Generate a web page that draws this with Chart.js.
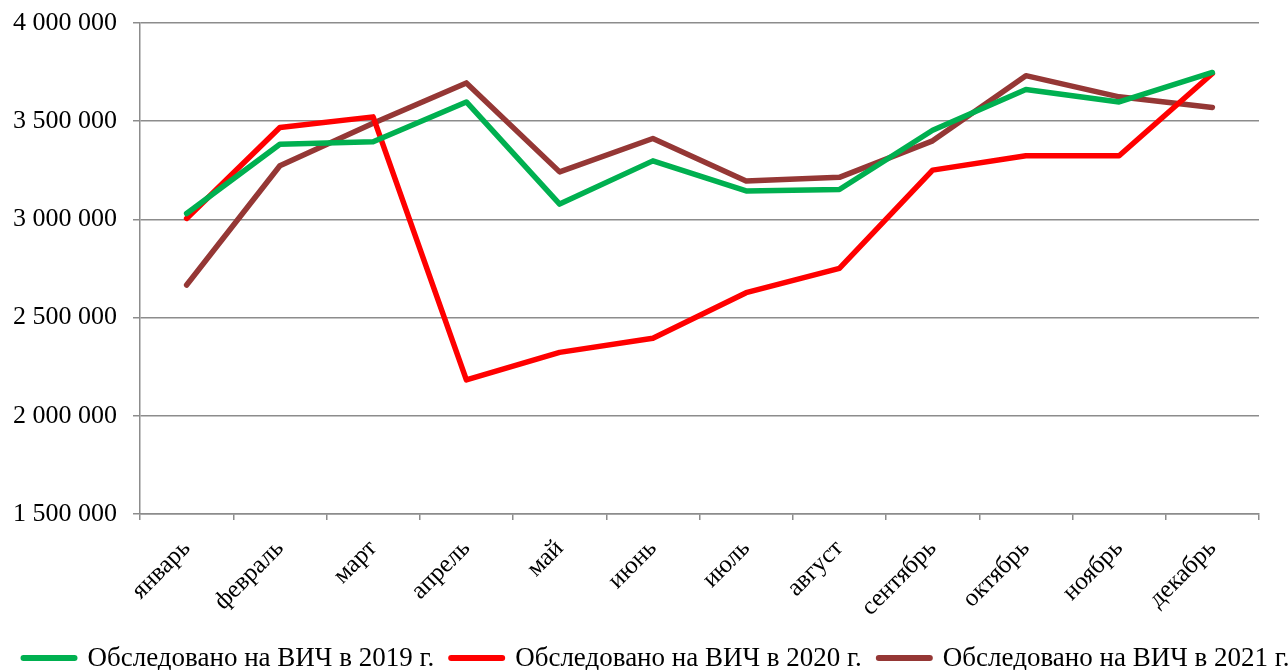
<!DOCTYPE html>
<html>
<head>
<meta charset="utf-8">
<script src="https://cdn.jsdelivr.net/npm/chart.js@4"></script>
<style>
  html, body { margin: 0; padding: 0; background: #fff; }
  #wrap { width: 1288px; height: 670px; }
</style>
</head>
<body>
<div id="wrap"><canvas id="hivChart" width="1288" height="670"></canvas></div>
<script>
const months = ['январь', 'февраль', 'март', 'апрель', 'май', 'июнь',
                'июль', 'август', 'сентябрь', 'октябрь', 'ноябрь', 'декабрь'];

const tested2019 = [3030000, 3383000, 3395000, 3598000, 3078000, 3298000,
                    3145000, 3152000, 3454000, 3661000, 3598000, 3748000];
const tested2020 = [3005000, 3468000, 3522000, 2183000, 2323000, 2395000,
                    2627000, 2751000, 3251000, 3324000, 3324000, 3743000];
const tested2021 = [2666000, 3273000, 3490000, 3695000, 3242000, 3412000,
                    3195000, 3214000, 3400000, 3732000, 3624000, 3570000];

const seriesNames = ['Обследовано на ВИЧ в 2019 г.',
                     'Обследовано на ВИЧ в 2020 г.',
                     'Обследовано на ВИЧ в 2021 г.'];

const fontFamily = "'Liberation Serif', 'Times New Roman', serif";
const gridColor = '#8c8c8c';

// 4000000 -> "4 000 000"
function spaced(v) {
    return String(v).replace(/\B(?=(\d{3})+(?!\d))/g, ' ');
}

function lineSet(label, data, color) {
    return {
        label: label,
        data: data,
        borderColor: color,
        backgroundColor: color,
        borderWidth: 5.5,
        pointRadius: 0,
        tension: 0,
        borderCapStyle: 'round',
        borderJoinStyle: 'round'
    };
}

// legend drawn by hand so the items keep Excel-like spacing on one row
const bottomLegend = {
    id: 'bottomLegend',
    afterDraw(chart) {
        const c = chart.ctx;
        const sets = chart.data.datasets;
        const swatch = 57, gap = 10, between = 14;
        c.save();
        c.font = `27px ${fontFamily}`;
        c.textBaseline = 'middle';
        c.textAlign = 'left';
        const widths = sets.map(ds => swatch + gap + c.measureText(ds.label).width);
        const total = widths.reduce((a, b) => a + b, 0) + between * (sets.length - 1);
        let x = (chart.width - total) / 2 + 11;
        const y = 658;
        sets.forEach((ds, i) => {
            c.strokeStyle = ds.borderColor;
            c.lineWidth = 6;
            c.lineCap = 'round';
            c.beginPath();
            c.moveTo(x + 3, y);
            c.lineTo(x + swatch - 3, y);
            c.stroke();
            c.fillStyle = '#000';
            c.fillText(ds.label, x + swatch + gap, y + 1);
            x += widths[i] + between;
        });
        c.restore();
    }
};

const ctx = document.getElementById('hivChart').getContext('2d');

new Chart(ctx, {
    type: 'line',
    data: {
        labels: months,
        datasets: [
            lineSet(seriesNames[0], tested2019, '#00b050'),
            lineSet(seriesNames[1], tested2020, '#ff0000'),
            lineSet(seriesNames[2], tested2021, '#953735')
        ]
    },
    options: {
        responsive: false,
        animation: false,
        layout: {
            padding: { top: 23, right: 0, bottom: 0, left: 0 }
        },
        plugins: {
            tooltip: { enabled: false },
            legend: { display: false }
        },
        scales: {
            x: {
                offset: true,
                grid: {
                    offset: true,
                    drawOnChartArea: false,
                    color: gridColor,
                    lineWidth: 1.5,
                    tickLength: 6
                },
                border: { color: gridColor, width: 1.5 },
                ticks: {
                    maxRotation: 45,
                    minRotation: 45,
                    autoSkip: false,
                    padding: 14,
                    color: '#000',
                    font: { family: fontFamily, size: 25 }
                },
                afterFit(scale) {
                    scale.height = 156;
                    scale.paddingLeft = 0;
                    scale.paddingRight = 0;
                }
            },
            y: {
                min: 1500000,
                max: 4000000,
                grid: {
                    color: gridColor,
                    lineWidth: 1.5,
                    tickLength: 7
                },
                border: { color: gridColor, width: 1.5 },
                ticks: {
                    stepSize: 500000,
                    padding: 16,
                    color: '#000',
                    font: { family: fontFamily, size: 26 },
                    callback: v => spaced(v)
                },
                afterFit(scale) {
                    scale.width = 140;
                    scale.paddingTop = 0;
                    scale.paddingBottom = 0;
                }
            },
            // empty strip on the right so the plot ends where the reference does
            rightGap: {
                position: 'right',
                grid: { display: false },
                border: { display: false },
                ticks: { display: false },
                afterFit(scale) {
                    scale.width = 29;
                }
            }
        }
    },
    plugins: [bottomLegend]
});
</script>
</body>
</html>
